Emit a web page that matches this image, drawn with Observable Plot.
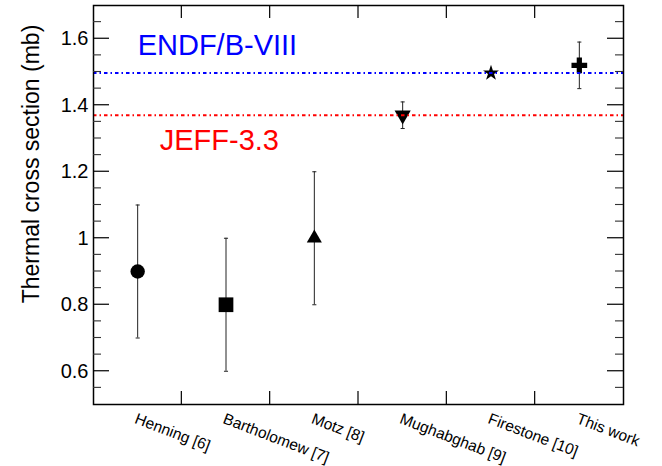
<!DOCTYPE html>
<html>
<head>
<meta charset="utf-8">
<script src="https://cdn.jsdelivr.net/npm/d3@7"></script>
<script src="https://cdn.jsdelivr.net/npm/@observablehq/plot@0.6"></script>
<style>
  html, body { margin: 0; padding: 0; background: #fff; }
</style>
</head>
<body>
<div id="chart"></div>
<script>
// ---- data ----
const labels = ["Henning [6]", "Bartholomew [7]", "Motz [8]", "Mughabghab [9]", "Firestone [10]", "This work"];
const values = [0.9, 0.8, 1.0, 1.37, 1.497, 1.52];
const errors = [0.2, 0.2, 0.2, 0.04, 0, 0.07];
const endfValue = 1.497;
const jeffValue = 1.37;
const yMajorTicks = [0.6, 0.8, 1.0, 1.2, 1.4, 1.6];
const yMinorTicks = [0.55, 0.65, 0.7, 0.75, 0.85, 0.9, 0.95, 1.05, 1.1, 1.15, 1.25, 1.3, 1.35, 1.45, 1.5, 1.55, 1.65];
const binEdges = [1, 2, 3, 4, 5];
const xRange = [0, 6];
const yRange = [0.5, 1.7];
const libLabels = ["ENDF/B-VIII", "JEFF-3.3"];
const libLabelX = [0.5, 0.75];
const libLabelY = [1.55, 1.266];
const libColors = ["#0000ff", "#ff0000"];

const data = labels.map((label, i) => ({label, x: i + 0.5, v: values[i], e: errors[i]}));
const annotations = libLabels.map((t, i) => ({t, x: libLabelX[i], y: libLabelY[i], c: libColors[i]}));

// ---- layout ----
const W = 662, H = 466, mL = 93, mR = 39, mT = 5, mB = 62;
const pxX = (xRange[1] - xRange[0]) / (W - mL - mR);
const pxY = (yRange[1] - yRange[0]) / (H - mT - mB);

// tick rectangles (inward on all four sides), sizes in px
function yTickRects(ticks, len, thick) {
  const out = [];
  for (const v of ticks) {
    const a = v - thick / 2 * pxY, b = v + thick / 2 * pxY;
    out.push({x1: xRange[0], x2: xRange[0] + len * pxX, y1: a, y2: b});
    out.push({x1: xRange[1] - len * pxX, x2: xRange[1], y1: a, y2: b});
  }
  return out;
}
function xTickRects(ticks, len, thick) {
  const out = [];
  for (const v of ticks) {
    const a = v - thick / 2 * pxX, b = v + thick / 2 * pxX;
    out.push({x1: a, x2: b, y1: yRange[0], y2: yRange[0] + len * pxY});
    out.push({x1: a, x2: b, y1: yRange[1] - len * pxY, y2: yRange[1]});
  }
  return out;
}
const minorRects = yTickRects(yMinorTicks, 8, 1.1);
const majorRects = yTickRects(yMajorTicks, 16, 1.2);
const binRects = xTickRects(binEdges, 13, 1.2);

// ---- symbols ----
const triangleDown = {
  draw(ctx, size) {
    const y = -Math.sqrt(size / (Math.sqrt(3) * 3));
    ctx.moveTo(0, -2 * y);
    ctx.lineTo(Math.sqrt(3) * y, y);
    ctx.lineTo(-Math.sqrt(3) * y, y);
    ctx.closePath();
  }
};
const cap = {
  draw(ctx, size) {
    const w = Math.sqrt(size) / 2;
    ctx.moveTo(-w, 0);
    ctx.lineTo(w, 0);
  }
};
const symbols = ["circle", "square", "triangle", triangleDown, "star", "cross"];
const radii = [7.2, 8.3, 5.6, 6.0, 5.0, 6.6];

const font = "'Liberation Sans', Arial, Helvetica, sans-serif";
const withErr = data.filter(d => d.e > 0);

const chart = Plot.plot({
  width: W,
  height: H,
  marginLeft: mL,
  marginRight: mR,
  marginTop: mT,
  marginBottom: mB,
  style: {fontFamily: font, background: "#fff", overflow: "visible"},
  x: {domain: xRange, axis: null},
  y: {domain: yRange, axis: null},
  marks: [
    // y tick labels
    Plot.axisY({anchor: "left", ticks: yMajorTicks, tickSize: 0, tickPadding: 5, label: null,
      tickFormat: d => d === 1 ? "1" : d3.format(".1f")(d), fontSize: 20, fill: "#000"}),
    // rotated category labels
    Plot.text(data, {x: "x", frameAnchor: "bottom", text: "label", rotate: 21, textAnchor: "start",
      lineAnchor: "top", dy: 8, fontSize: 15.5, fill: "#000"}),
    // y axis title
    Plot.text(["Thermal cross section (mb)"], {frameAnchor: "left", rotate: -90, textAnchor: "middle",
      lineAnchor: "bottom", dx: -55, dy: -41, fontSize: 23, fill: "#000"}),
    // error bars
    Plot.ruleX(withErr, {x: "x", y1: d => d.v - d.e, y2: d => d.v + d.e, stroke: "#222", strokeWidth: 1}),
    Plot.dot(withErr, {x: "x", y: d => d.v - d.e, symbol: cap, r: 2.3, stroke: "#222", strokeWidth: 1, fill: "none"}),
    Plot.dot(withErr, {x: "x", y: d => d.v + d.e, symbol: cap, r: 2.3, stroke: "#222", strokeWidth: 1, fill: "none"}),
    // markers
    ...data.map((d, i) => Plot.dot([d], {x: "x", y: "v", symbol: symbols[i], r: radii[i], fill: "#000", stroke: "none"})),
    // library reference lines
    Plot.ruleY([endfValue], {stroke: "#0000ff", strokeWidth: 2, strokeDasharray: "3.5,3,1.5,3"}),
    Plot.ruleY([jeffValue], {stroke: "#ff0000", strokeWidth: 2, strokeDasharray: "3.5,3,1.5,3"}),
    Plot.text(annotations, {x: "x", y: "y", text: "t", fill: "c", textAnchor: "start", lineAnchor: "bottom", fontSize: 29}),
    Plot.frame({stroke: "#000", strokeWidth: 1.5}),
    // inward ticks as thin filled rectangles
    Plot.rect(minorRects, {x1: "x1", x2: "x2", y1: "y1", y2: "y2", fill: "#333"}),
    Plot.rect(majorRects, {x1: "x1", x2: "x2", y1: "y1", y2: "y2", fill: "#000"}),
    Plot.rect(binRects, {x1: "x1", x2: "x2", y1: "y1", y2: "y2", fill: "#000"})
  ]
});
document.getElementById("chart").appendChild(chart);
</script>
</body>
</html>
